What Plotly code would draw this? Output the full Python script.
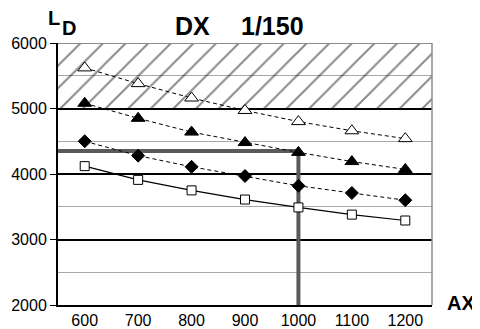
import plotly.graph_objects as go

ax_vals = [600, 700, 800, 900, 1000, 1100, 1200]
open_tri = [5620, 5380, 5160, 4970, 4800, 4660, 4540]
filled_tri = [5080, 4850, 4640, 4480, 4330, 4190, 4070]
diamonds = [4500, 4280, 4110, 3970, 3820, 3710, 3600]
squares = [4120, 3910, 3750, 3610, 3490, 3380, 3290]
y_ticks = [2000, 3000, 4000, 5000, 6000]
hatch_zone = [5000, 6000]
ref_x = 1000
ref_y = 4350
x_range = [550, 1250]

fig = go.Figure()

# hatched zone
fig.add_trace(go.Scatter(
    x=[x_range[0], x_range[1], x_range[1], x_range[0], x_range[0]],
    y=[hatch_zone[0], hatch_zone[0], hatch_zone[1], hatch_zone[1], hatch_zone[0]],
    mode="lines", line=dict(width=0), fill="toself",
    fillcolor="rgba(0,0,0,0)",
    fillpattern=dict(shape="/", size=16, solidity=0.12, fgcolor="#111111",
                     bgcolor="rgba(255,255,255,0)"),
    hoverinfo="skip", showlegend=False))

# reference lines
fig.add_trace(go.Scatter(
    x=[x_range[0], ref_x, ref_x], y=[ref_y, ref_y, 2000],
    mode="lines", line=dict(color="#5a5a5a", width=4),
    showlegend=False, cliponaxis=False))

dash = "4px,3px"
fig.add_trace(go.Scatter(x=ax_vals, y=open_tri, mode="lines+markers",
    line=dict(color="black", width=1, dash=dash),
    marker=dict(symbol="triangle-up", size=12, color="white",
                line=dict(color="black", width=1)), showlegend=False))
fig.add_trace(go.Scatter(x=ax_vals, y=filled_tri, mode="lines+markers",
    line=dict(color="black", width=1, dash=dash),
    marker=dict(symbol="triangle-up", size=12, color="black",
                line=dict(color="black", width=1)), showlegend=False))
fig.add_trace(go.Scatter(x=ax_vals, y=diamonds, mode="lines+markers",
    line=dict(color="black", width=1, dash=dash),
    marker=dict(symbol="diamond", size=10, color="black",
                line=dict(color="black", width=1)), showlegend=False))
fig.add_trace(go.Scatter(x=ax_vals, y=squares, mode="lines+markers",
    line=dict(color="black", width=1.2),
    marker=dict(symbol="square", size=9, color="white",
                line=dict(color="black", width=1)), showlegend=False))

font = "Liberation Sans, Arial, sans-serif"
fig.update_layout(
    width=480, height=329,
    margin=dict(l=50, r=56, t=35, b=32),
    paper_bgcolor="white", plot_bgcolor="white",
    font=dict(family=font, color="black", size=16),
    xaxis=dict(range=x_range, tickvals=ax_vals, showgrid=False,
               showline=True, linecolor="black", linewidth=2, automargin=False,
               ticks="", tickfont=dict(size=16), zeroline=False),
    yaxis=dict(range=[2000, 6000], tickvals=y_ticks, showgrid=True,
               gridcolor="black", gridwidth=1.5, automargin=False,
               minor=dict(dtick=500, showgrid=True, gridcolor="#a8a8a8", gridwidth=1),
               showline=True, linecolor="black", linewidth=2,
               ticks="outside", ticklen=6, tickcolor="black",
               tickfont=dict(size=16), zeroline=False),
    shapes=[
        dict(type="line", xref="paper", yref="y", x0=0, x1=1, y0=6000, y1=6000,
             line=dict(color="#8c8c8c", width=2), layer="above"),
        dict(type="line", xref="paper", yref="paper", x0=1, x1=1, y0=0, y1=1,
             line=dict(color="#8c8c8c", width=1.5), layer="above"),
    ],
    annotations=[
        dict(text="<b>DX</b>", xref="paper", yref="paper", x=0, y=1,
             xshift=134.5, yshift=17, xanchor="center", yanchor="middle",
             showarrow=False, font=dict(size=25, family=font)),
        dict(text="<b>1/150</b>", xref="paper", yref="paper", x=0, y=1,
             xshift=214.5, yshift=17, xanchor="center", yanchor="middle",
             showarrow=False, font=dict(size=25, family=font)),
        dict(text="<b>L</b>", xref="paper", yref="paper", x=0, y=1,
             xshift=-4, yshift=25, xanchor="center", yanchor="middle",
             showarrow=False, font=dict(size=20, family=font)),
        dict(text="<b>D</b>", xref="paper", yref="paper", x=0, y=1,
             xshift=10.5, yshift=15.5, xanchor="center", yanchor="middle",
             showarrow=False, font=dict(size=20, family=font)),
        dict(text="<b>AX</b>", xref="paper", yref="paper", x=1, y=0,
             xshift=29, yshift=2.5, xanchor="center", yanchor="middle",
             showarrow=False, font=dict(size=20, family=font)),
    ],
)

fig.write_html("out.html")
